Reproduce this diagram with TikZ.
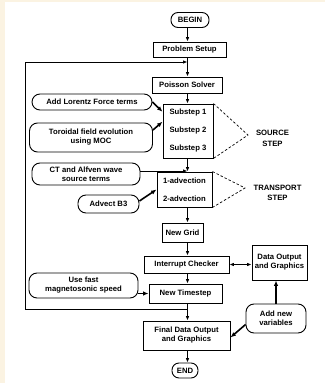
\documentclass[tikz,border=0pt]{standalone}
\usepackage{fontspec}
\setmainfont{Liberation Sans}
\usepackage{tikz}
\usetikzlibrary{arrows.meta, calc}
\definecolor{paper}{RGB}{251,243,226}

\begin{document}
\begin{tikzpicture}[
    x=1pt, y=-1pt,
    box/.style={draw, line width=0.9pt, fill=white, inner sep=0pt, align=center,
        font=\bfseries\fontsize{7.7}{9}\selectfont},
    rbox/.style={box, rounded corners=8pt},
    term/.style={box, rounded corners=7pt, minimum height=15pt},
    steps/.style={box, font=\bfseries\fontsize{7.7}{18}\selectfont},
    lbl/.style={align=center, font=\bfseries\fontsize{7.7}{10.5}\selectfont},
    arr/.style={-{Latex[length=4.5pt,width=3.6pt]}, line width=0.9pt},
    harr/.style={-{Latex[length=5.5pt,width=4.5pt]}, line width=1.6pt},
    dsh/.style={dashed, line width=0.7pt, dash pattern=on 2.5pt off 2pt}
]
    % page
    \fill[paper] (0,0) rectangle (325,383);
    \fill[white] (5,2) rectangle (325,383);
    \useasboundingbox (0,0) rectangle (325,383);

    % main column
    \coordinate (col) at (187.5,0);
    \node[term, minimum width=38pt] (begin) at (190,20) {BEGIN};
    \node[box, minimum width=73pt, minimum height=15pt] (setup) at (189.5,49.5) {Problem Setup};
    \node[box, minimum width=70pt, minimum height=16pt] (poisson) at (187,85) {Poisson Solver};
    \node[steps, minimum width=50pt, minimum height=54pt] (subs) at (188,131) {Substep 1\\Substep 2\\Substep 3};
    \node[steps, minimum width=55pt, minimum height=35pt] (adv) at (184.5,189.5) {1-advection\\2-advection};
    \node[box, minimum width=41pt, minimum height=19pt] (grid) at (182.5,232.5) {New Grid};
    \node[box, minimum width=85pt, minimum height=17pt] (chk) at (186.5,264.5) {Interrupt Checker};
    \node[box, minimum width=73pt, minimum height=19pt] (tstep) at (185.5,293.5) {New Timestep};
    \node[box, minimum width=87pt, minimum height=29pt] (final) at (186.5,335.5) {Final Data Output\\and Graphics};
    \node[term, minimum width=26pt] (end) at (185,370.5) {END};

    % side inputs
    \node[rbox, minimum width=120pt, minimum height=16pt] (lorentz) at (92,102) {Add Lorentz Force terms};
    \node[rbox, minimum width=123pt, minimum height=29pt] (toroidal) at (91,137.5) {Toroidal field evolution\\using MOC};
    \node[rbox, minimum width=108pt, minimum height=22pt] (ct) at (86,174) {CT and Alfven wave\\source terms};
    \node[rbox, minimum width=61pt, minimum height=18pt] (b3) at (108.5,204) {Advect B3};
    \node[rbox, minimum width=109pt, minimum height=25pt] (fast) at (83.5,285.5) {Use fast\\magnetosonic speed};

    % output side
    \node[box, minimum width=55pt, minimum height=35pt] (dout) at (279.5,262.5) {Data Output\\and Graphics};
    \node[rbox, minimum width=60pt, minimum height=29pt] (newvar) at (276,318.5) {Add new\\variables};

    % step labels
    \coordinate (srcapex) at (248,135);
    \coordinate (trapex) at (245,188);
    \node[lbl] (srclbl) at (272.5,138.5) {SOURCE\\STEP};
    \node[lbl] (tralbl) at (277.5,193) {TRANSPORT\\STEP};
    \draw[dsh] (subs.north east) -- (srcapex) -- (subs.south east);
    \draw[dsh] (adv.north east) -- (trapex) -- (adv.south east);

    % flow
    \draw[arr] (begin.south -| col) -- (setup.north -| col);
    \draw[arr] (setup.south -| col) -- (poisson.north -| col);
    \draw[arr] (poisson.south -| col) -- (subs.north -| col);
    \draw[arr] (subs.south -| col) -- (adv.north -| col);
    \draw[arr] (adv.south -| col) -- (grid.north -| col);
    \draw[arr] (grid.south -| col) -- (chk.north -| col);
    \draw[arr] (chk.south -| col) -- (tstep.north -| col);
    \draw[arr] (tstep.south -| col) -- (final.north -| col);
    \draw[arr] (final.south -| col) -- (end.north -| col);

    % time loop
    \coordinate (loopin) at (187.5,62);
    \coordinate (loopout) at (187.5,309);
    \coordinate (loopx) at (25,0);
    \draw[arr] (loopout) -- (loopout -| loopx) -- (loopin -| loopx) -- (loopin);

    % inputs
    \draw[harr] (lorentz.east) -- ($(subs.north west)!0.15!(subs.south west)$);
    \draw[harr] ($(toroidal.north east)!0.25!(toroidal.south east)$) -- ($(subs.north west)!0.33!(subs.south west)$);
    \coordinate (ctin) at (187.5,171);
    \draw[arr] (ctin -| ct.east) -- (ctin);
    \draw[harr] ([yshift=3pt]b3.east) -- (adv.west);
    \draw[harr] (fast.east |- tstep.west) -- (tstep.west);

    % output
    \draw[{Latex[length=4.5pt,width=3.6pt]}-{Latex[length=4.5pt,width=3.6pt]}, line width=0.9pt] (chk.east) -- (chk.east -| dout.west);
    \draw[harr] (newvar.north) -- (newvar.north |- dout.south);
    \draw[harr] ([yshift=-6pt]newvar.west) -- ([yshift=-2pt]final.east);
\end{tikzpicture}
\end{document}
